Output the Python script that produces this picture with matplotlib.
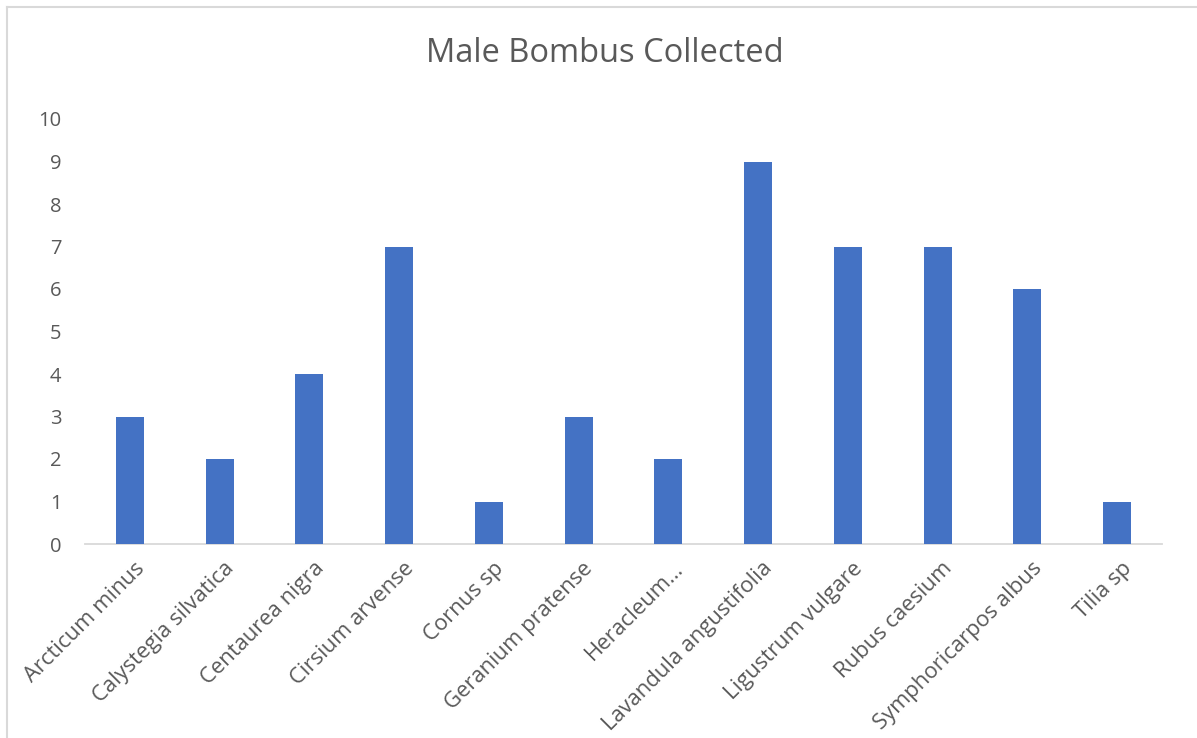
import matplotlib
matplotlib.use("Agg")
import matplotlib.pyplot as plt
from matplotlib.lines import Line2D
from matplotlib.transforms import ScaledTranslation

plants = [
    "Arcticum minus", "Calystegia silvatica", "Centaurea nigra",
    "Cirsium arvense", "Cornus sp", "Geranium pratense", "Heracleum\u2026",
    "Lavandula angustifolia", "Ligustrum vulgare", "Rubus caesium",
    "Symphoricarpos albus", "Tilia sp",
]
male_counts = [3, 2, 4, 7, 1, 3, 2, 9, 7, 7, 6, 1]
y_ticks = list(range(0, 11))

plt.rcParams["font.family"] = ["Open Sans", "DejaVu Sans"]
text_color = "#595959"

fig = plt.figure(figsize=(11.97, 7.38), dpi=100)
ax = fig.add_axes([85 / 1197, 1 - 544 / 738, 1077 / 1197, (544 - 119) / 738])

x = list(range(len(plants)))
ax.bar(x, male_counts, width=0.31, color="#4472C4", zorder=3)

ax.set_xlim(-0.5, len(plants) - 0.5)
ax.set_ylim(0, 10)
ax.set_yticks(y_ticks)
ax.set_yticklabels([str(t) for t in y_ticks], fontsize=14.5, color=text_color)
ax.set_xticks(x)
ax.set_xticklabels(plants, rotation=45, ha="right", rotation_mode="anchor",
                   fontsize=15.8, color=text_color)
ax.tick_params(axis="both", length=0)
ax.tick_params(axis="y", pad=17)
ax.tick_params(axis="x", pad=10)
shift = ScaledTranslation(4 / 100, 0, fig.dpi_scale_trans)
for lbl in ax.get_xticklabels():
    lbl.set_transform(lbl.get_transform() + shift)

for side in ("top", "right", "left"):
    ax.spines[side].set_visible(False)
ax.spines["bottom"].set_color("#d9d9d9")
ax.spines["bottom"].set_linewidth(1.3)

fig.text(0.5 + 6 / 1197, 1 - 53 / 738, "Male Bombus Collected", ha="center",
         va="center", fontsize=23.5, color=text_color)

# chart frame edges
fig.add_artist(Line2D([7 / 1197, 7 / 1197], [0, 1 - 7 / 738],
                      transform=fig.transFigure, color="#d9d9d9", lw=1.5))
fig.add_artist(Line2D([7 / 1197, 1], [1 - 7 / 738, 1 - 7 / 738],
                      transform=fig.transFigure, color="#d9d9d9", lw=1.5))

fig.savefig("out.png", dpi=100, facecolor="white")
